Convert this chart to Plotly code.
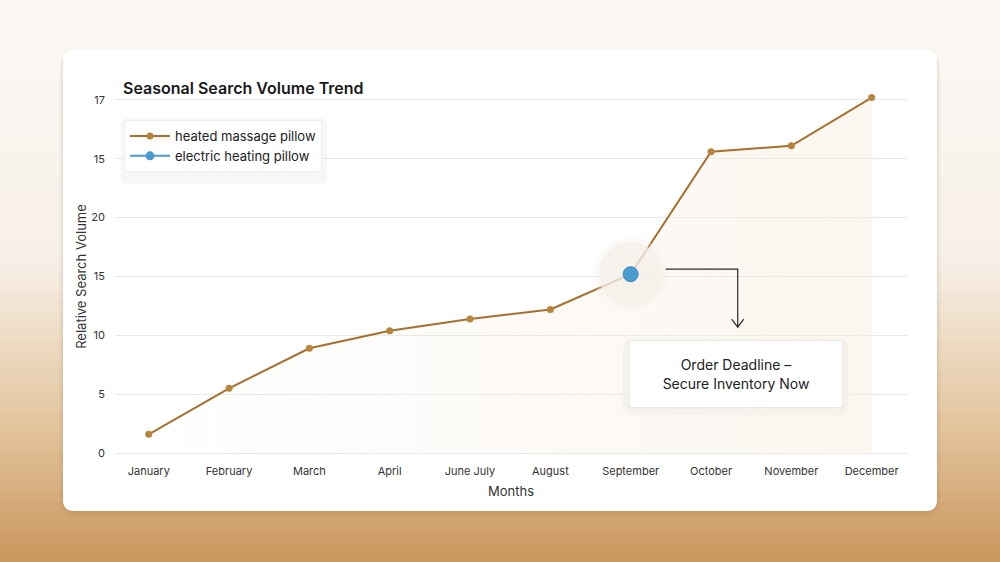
import plotly.graph_objects as go

months = ['January', 'February', 'March', 'April', 'June July', 'August',
          'September', 'October', 'November', 'December']
heated_massage = [1.6, 5.5, 8.9, 10.4, 11.4, 12.2, 15.2, 25.6, 26.1, 30.2]
electric_heating = [None, None, None, None, None, None, 15.2, None, None, None]
y_tickvals = [0, 5, 10, 15, 20, 25, 30]
y_ticktext = ['0', '5', '10', '15', '20', '15', '17']
highlight_month = 'September'
note_text = 'Order Deadline –<br>Secure Inventory Now'

W, H = 1000, 562
L, R, T, B = 115, 93, 94, 103


def px_x(px):
    return (px - L) / (W - L - R)


def px_y(py):
    return (H - B - py) / (H - T - B)


def mix(c1, c2, t):
    return 'rgb(%d,%d,%d)' % tuple(round(a + (b - a) * t) for a, b in zip(c1, c2))


def rounded(x0, y0, x1, y1, r):
    # rounded rect in paper coords, corners given in pixels
    rx = r / (W - L - R)
    ry = r / (H - T - B)
    a, b, c, d = px_x(x0), px_y(y1), px_x(x1), px_y(y0)
    return (f'M {a+rx},{b} L {c-rx},{b} Q {c},{b} {c},{b+ry} L {c},{d-ry} '
            f'Q {c},{d} {c-rx},{d} L {a+rx},{d} Q {a},{d} {a},{d-ry} '
            f'L {a},{b+ry} Q {a},{b} {a+rx},{b} Z')


shapes = []
# backdrop gradient
stops = [(0, (251, 248, 245)), (260, (247, 240, 232)), (420, (228, 198, 160)), (562, (202, 150, 92))]
n = 56
for i in range(n):
    y0 = i * H / n
    y1 = (i + 1) * H / n + 1
    ym = (y0 + y1) / 2
    for (s0, c0), (s1, c1) in zip(stops[:-1], stops[1:]):
        if s0 <= ym <= s1:
            col = mix(c0, c1, (ym - s0) / (s1 - s0))
    shapes.append(dict(type='rect', xref='paper', yref='paper', layer='below',
                       x0=px_x(-2), x1=px_x(W + 2), y0=px_y(y1), y1=px_y(y0),
                       fillcolor=col, line_width=0))

# card with soft shadow
for k, a in [(8, 0.03), (5, 0.04), (2, 0.06)]:
    shapes.append(dict(type='path', xref='paper', yref='paper', layer='below',
                       path=rounded(63 - k / 2, 50 + k / 3, 937 + k / 2, 511 + k, 12 + k),
                       fillcolor=f'rgba(120,80,30,{a})', line_width=0))
shapes.append(dict(type='path', xref='paper', yref='paper', layer='below',
                   path=rounded(63, 50, 937, 511, 11), fillcolor='white', line_width=0))

# legend shadow
shapes.append(dict(type='path', xref='paper', yref='paper', layer='below',
                   path=rounded(121, 118, 327, 184, 7), fillcolor='rgba(0,0,0,0.03)', line_width=0))
# note box shadow
shapes.append(dict(type='path', xref='paper', yref='paper', layer='below',
                   path=rounded(623, 339, 848, 415, 9), fillcolor='rgba(0,0,0,0.035)', line_width=0))

# elbow arrow from highlighted point to note
hx = months.index(highlight_month)
hy = heated_massage[hx]
ux = 1 / 80.3
uy = 1 / 11.77
sx, cx = hx + 35 * ux, hx + 107 * ux
sy, ey = hy + 5 * uy, hy - 53 * uy
shapes.append(dict(type='path', xref='x', yref='y', layer='above',
                   path=f'M {sx},{sy} L {cx},{sy} L {cx},{ey}',
                   line=dict(color='#2b2b2b', width=1.2)))
shapes.append(dict(type='path', xref='x', yref='y', layer='above',
                   path=f'M {cx-6*ux},{ey+8*uy} L {cx},{ey} L {cx+6*ux},{ey+8*uy}',
                   line=dict(color='#2b2b2b', width=1.2)))

fig = go.Figure()
fig.add_trace(go.Scatter(
    x=months, y=heated_massage, name='heated massage pillow',
    mode='lines+markers', fill='tozeroy',
    fillgradient=dict(type='horizontal',
                      colorscale=[[0, 'rgba(245,232,215,0.0)'], [1, 'rgba(245,232,215,0.4)']]),
    line=dict(color='#A8702D', width=2),
    marker=dict(color='#B7843C', size=7),
))
# halo around highlight
fig.add_trace(go.Scatter(
    x=[highlight_month], y=[hy], mode='markers', showlegend=False, hoverinfo='skip',
    marker=dict(size=74, color='rgba(244,239,232,0.3)', line_width=0),
))
fig.add_trace(go.Scatter(
    x=[highlight_month], y=[hy], mode='markers', showlegend=False, hoverinfo='skip',
    marker=dict(size=64, color='rgba(244,239,231,0.7)', line_width=0),
))
fig.add_trace(go.Scatter(
    x=months, y=electric_heating, name='electric heating pillow', showlegend=False,
    mode='lines+markers', line=dict(color='#4A9BD0', width=2),
    marker=dict(color='#4A9BD0', size=15, line=dict(color='#3C89BE', width=1)),
))
# legend entry with a small symbol
fig.add_trace(go.Scatter(
    x=[None], y=[None], name='electric heating pillow',
    mode='lines+markers', line=dict(color='#4A9BD0', width=2),
    marker=dict(color='#4A9BD0', size=9),
))

fig.add_annotation(
    x=hx + 105 * ux, y=hy - 100 * uy, text=note_text, showarrow=False,
    font=dict(size=14, color='#222222'), align='center',
    bgcolor='white', bordercolor='#e8e8e8', borderwidth=1, borderpad=4,
    width=204, height=58,
)

fig.update_layout(
    width=W, height=H,
    margin=dict(l=L, r=R, t=T, b=B),
    paper_bgcolor='#F7EFE5',
    plot_bgcolor='rgba(0,0,0,0)',
    font=dict(family='Inter, Roboto, sans-serif', size=12, color='#333333'),
    title=dict(text='Seasonal Search Volume Trend', x=px_x(123), xref='paper', xanchor='left',
               y=1 - 88 / H, yanchor='middle',
               font=dict(size=16, color='#1a1a1a', weight=600)),
    shapes=shapes,
    showlegend=True,
    legend=dict(x=px_x(124), y=px_y(120), xanchor='left', yanchor='top',
                bgcolor='white', bordercolor='#eeeeee', borderwidth=1,
                font=dict(size=13, color='#222222'), itemwidth=40),
    xaxis=dict(range=[-0.42, 9.44], showgrid=False, zeroline=False, showline=False,
               ticks='', tickfont=dict(size=11, color='#333333'), ticklabelstandoff=4,
               title=dict(text='Months', font=dict(size=13, color='#333333'), standoff=9)),
    yaxis=dict(range=[-0.5, 30.5], tickvals=y_tickvals, ticktext=y_ticktext,
               showgrid=True, gridcolor='#e9e9e9', gridwidth=1, zeroline=False,
               showline=False, ticks='', tickfont=dict(size=11, color='#333333'),
               ticklabelstandoff=9,
               title=dict(text='Relative Search Volume', font=dict(size=13, color='#333333'), standoff=1)),
)

fig.write_html('out.html', config={'displayModeBar': False},
               post_script="document.body.style.margin='0px';")
